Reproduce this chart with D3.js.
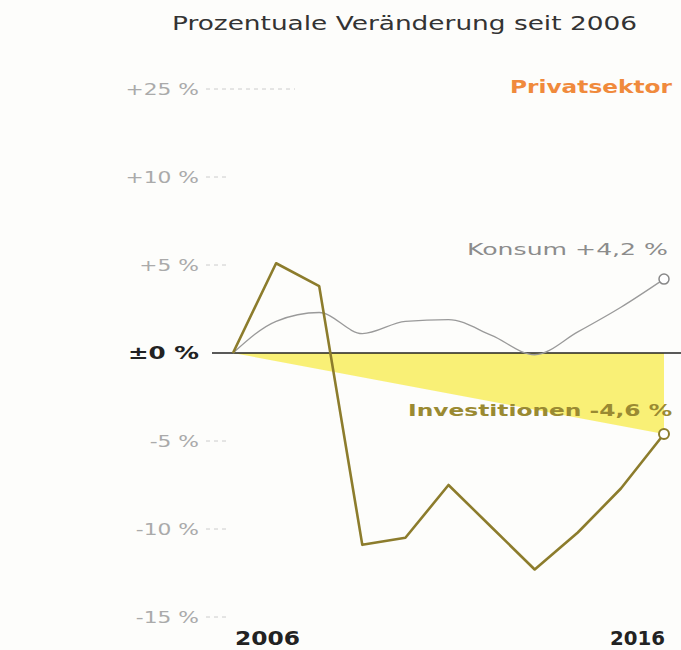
<!DOCTYPE html>
<html>
<head>
<meta charset="utf-8">
<script src="https://cdn.jsdelivr.net/npm/d3@7"></script>
<style>
  body { margin: 0; background: #fdfdfb; }
  svg { display: block; }
</style>
</head>
<body>
<svg id="chart" width="681" height="650"></svg>
<script>
const years = [2006, 2007, 2008, 2009, 2010, 2011, 2012, 2013, 2014, 2015, 2016];
const konsum = [0, 1.8, 2.3, 1.1, 1.8, 1.9, 1.0, -0.1, 1.2, 2.6, 4.2];
const investitionen = [0, 5.1, 3.8, -10.9, -10.5, -7.5, -9.9, -12.3, -10.2, -7.7, -4.6];
const trend = [[2006, 0], [2016, -4.6]];
const tickValues = [15, 10, 5, 0, -5, -10, -15];
const tickLabels = ["+25 %", "+10 %", "+5 %", "±0 %", "-5 %", "-10 %", "-15 %"];

const svg = d3.select("#chart");

const x = d3.scaleLinear().domain([2006, 2016]).range([233, 664]);
const y = d3.scaleLinear().domain([-15, 15]).range([617, 89]);

const font = "DejaVu Sans";

// stretch text to a given width (reference uses a wide geometric face)
function fit(sel, w) {
  sel.attr("textLength", w).attr("lengthAdjust", "spacingAndGlyphs");
  return sel;
}

// title
fit(svg.append("text")
  .attr("x", 172).attr("y", 30)
  .attr("font-family", font)
  .attr("font-size", 20)
  .attr("fill", "#333")
  .text("Prozentuale Veränderung seit 2006"), 465);

// yellow wedge
svg.append("path")
  .datum(trend)
  .attr("fill", "#f7ec55")
  .attr("opacity", 0.8)
  .attr("d", d3.area().x(d => x(d[0])).y0(y(0)).y1(d => y(d[1])));

// y axis labels + small dashes
const ticks = svg.append("g");
tickValues.forEach((v, i) => {
  const zero = v === 0;
  const t = ticks.append("text")
    .attr("x", 199).attr("y", y(v) + 6)
    .attr("text-anchor", "end")
    .attr("font-family", font)
    .attr("font-size", zero ? 17 : 15)
    .attr("font-weight", zero ? "bold" : "normal")
    .attr("fill", zero ? "#222" : "#aaa")
    .text(tickLabels[i]);
  fit(t, t.node().getComputedTextLength() * (zero ? 1.45 : 1.45));
  if (!zero) {
    ticks.append("line")
      .attr("x1", 206).attr("x2", v === 15 ? 295 : 228)
      .attr("y1", y(v)).attr("y2", y(v))
      .attr("stroke", "#ccc")
      .attr("stroke-dasharray", "4,4");
  }
});

// zero line
svg.append("line")
  .attr("x1", 212).attr("x2", 681)
  .attr("y1", y(0)).attr("y2", y(0))
  .attr("stroke", "#222").attr("stroke-width", 1.6);

// Konsum line
svg.append("path")
  .datum(konsum)
  .attr("fill", "none")
  .attr("stroke", "#9a9a9a")
  .attr("stroke-width", 1.3)
  .attr("d", d3.line().curve(d3.curveMonotoneX).x((d, i) => x(years[i])).y(d => y(d)));

// Investitionen line
svg.append("path")
  .datum(investitionen)
  .attr("fill", "none")
  .attr("stroke", "#8c7c2c")
  .attr("stroke-width", 2.6)
  .attr("stroke-linejoin", "round")
  .attr("d", d3.line().x((d, i) => x(years[i])).y(d => y(d)));

// end markers
svg.append("circle")
  .attr("cx", x(2016)).attr("cy", y(konsum[konsum.length - 1])).attr("r", 5)
  .attr("fill", "#fff").attr("stroke", "#888").attr("stroke-width", 1.5);
svg.append("circle")
  .attr("cx", x(2016)).attr("cy", y(investitionen[investitionen.length - 1])).attr("r", 5)
  .attr("fill", "#fff").attr("stroke", "#8c7c2c").attr("stroke-width", 2);

// labels
fit(svg.append("text")
  .attr("x", 510).attr("y", 93)
  .attr("font-family", font).attr("font-weight", "bold")
  .attr("font-size", 17).attr("fill", "#f08a3c")
  .text("Privatsektor"), 162);

fit(svg.append("text")
  .attr("x", 467).attr("y", 255)
  .attr("font-family", font)
  .attr("font-size", 16).attr("fill", "#8c8c8c")
  .text("Konsum +4,2 %"), 201);

fit(svg.append("text")
  .attr("x", 408).attr("y", 416)
  .attr("font-family", font).attr("font-weight", "bold")
  .attr("font-size", 16).attr("fill", "#9a8a32")
  .text("Investitionen -4,6 %"), 264);

// year labels
fit(svg.append("text")
  .attr("x", x(2006) + 2).attr("y", 645)
  .attr("font-family", font).attr("font-weight", "bold")
  .attr("font-size", 20).attr("fill", "#222")
  .text(years[0]), 65);
fit(svg.append("text")
  .attr("x", 610).attr("y", 645)
  .attr("font-family", font).attr("font-weight", "bold")
  .attr("font-size", 20).attr("fill", "#222")
  .text(years[years.length - 1]), 55);
</script>
</body>
</html>
